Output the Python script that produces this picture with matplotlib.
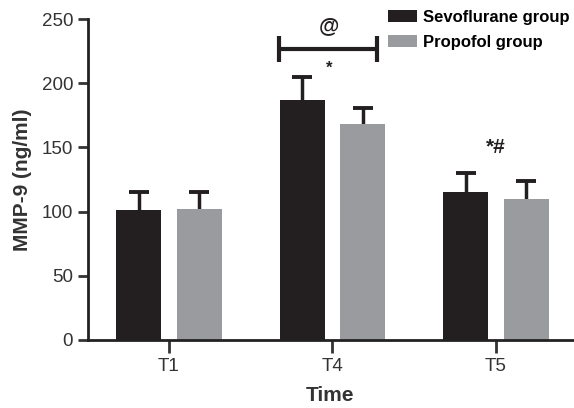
import numpy as np
import matplotlib.pyplot as plt

plt.rcParams['font.family'] = ['Liberation Sans', 'DejaVu Sans']

times = ['T1', 'T4', 'T5']
sevo_mean = [101, 187, 115]
sevo_err = [14, 18, 15]
prop_mean = [102, 168, 110]
prop_err = [13, 13, 14]

black = '#231f20'
gray = '#9a9b9f'

fig = plt.figure(figsize=(5.74, 4.08), dpi=100)
ax = fig.add_axes([0.153, 0.167, 0.845, 0.786])

x = np.arange(len(times))
w = 0.275
off = 0.185

ax.bar(x - off, sevo_mean, w, color=black, label='Sevoflurane group', zorder=2)
ax.bar(x + off, prop_mean, w, color=gray, label='Propofol group', zorder=2)

# upper-only error bars (no cap at the bar top)
for xs, m, e in [(x - off, sevo_mean, sevo_err), (x + off, prop_mean, prop_err)]:
    m = np.array(m)
    e = np.array(e)
    ax.vlines(xs, m, m + e, color=black, lw=2.5, zorder=1)
    ax.plot(xs, m + e, ls='none', marker='_', ms=14, mew=2.8, color=black, zorder=1)

# significance bracket and marks
ax.plot([0.676, 1.275], [227, 227], color=black, lw=3, solid_capstyle='butt')
ax.plot([0.676, 0.676], [217, 237], color=black, lw=3, solid_capstyle='butt')
ax.plot([1.275, 1.275], [217, 237], color=black, lw=3, solid_capstyle='butt')
ax.text(0.98, 245, '@', ha='center', va='center', fontsize=15, fontweight='bold', color=black)
ax.text(0.98, 212, '*', ha='center', va='center', fontsize=12, fontweight='bold', color=black)
ax.text(2.0, 150, '*#', ha='center', va='center', fontsize=15, fontweight='bold', color=black)

ax.set_xlim(-0.495, 2.47)
ax.set_ylim(0, 250)
ax.set_yticks([0, 50, 100, 150, 200, 250])
ax.set_xticks(x)
ax.set_xticklabels(times)
ax.tick_params(axis='both', labelsize=13.5, width=2, length=7, colors='#333333', labelcolor='#333333')
ax.tick_params(axis='x', length=9, pad=4)
for s in ['top', 'right']:
    ax.spines[s].set_visible(False)
for s in ['left', 'bottom']:
    ax.spines[s].set_linewidth(2)
    ax.spines[s].set_color('#222222')

ax.set_ylabel('MMP-9 (ng/ml)', fontsize=15, fontweight='bold', color='#333333', labelpad=7)
ax.set_xlabel('Time', fontsize=15, fontweight='bold', color='#333333', labelpad=8)

ax.legend(loc='upper left', bbox_to_anchor=(0.619, 1.03), frameon=False,
          prop={'weight': 'bold', 'size': 12}, handlelength=1.75, handleheight=0.8,
          handletextpad=0.35, labelspacing=0.6, borderaxespad=0, borderpad=0)

fig.savefig('out.png', dpi=100)
